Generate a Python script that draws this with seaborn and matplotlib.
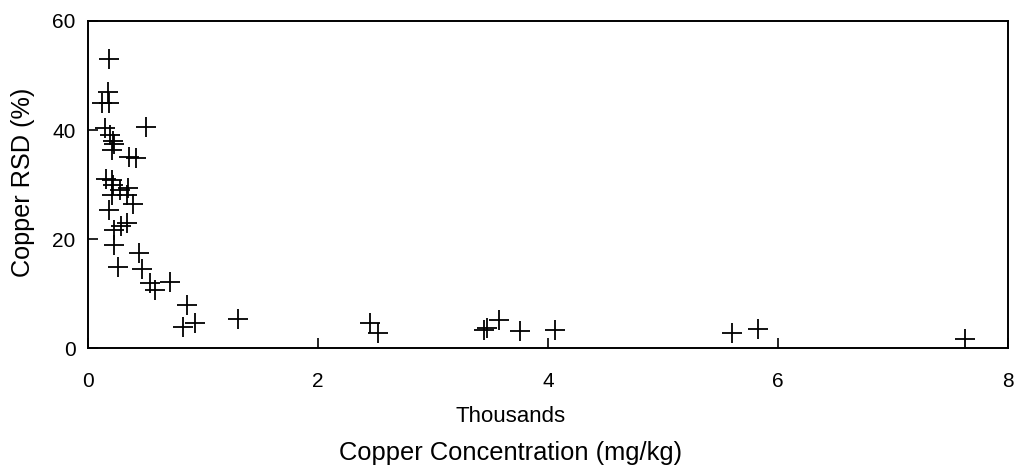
import matplotlib
matplotlib.use("Agg")
import matplotlib.pyplot as plt
import seaborn as sns
import pandas as pd

# Copper concentration (thousands of mg/kg) and relative standard deviation (%)
concentration = [
    0.18, 0.17, 0.12, 0.18, 0.15, 0.50, 0.19, 0.22, 0.23, 0.21,
    0.36, 0.42, 0.16, 0.21, 0.22, 0.28, 0.35, 0.21, 0.34, 0.39,
    0.18, 0.34, 0.29, 0.23, 0.23, 0.44, 0.26, 0.47, 0.54, 0.71,
    0.58, 0.86, 0.83, 0.93, 1.30, 2.45, 2.52, 3.44, 3.47, 3.57,
    3.76, 4.06, 5.60, 5.83, 7.63,
]
rsd = [
    53.0, 46.9, 44.9, 44.9, 40.3, 40.5, 39.1, 37.9, 37.5, 36.3,
    35.1, 34.8, 31.1, 30.8, 29.9, 29.0, 29.3, 28.1, 28.1, 26.4,
    25.3, 22.9, 22.3, 21.7, 18.9, 17.4, 14.9, 14.5, 11.9, 12.2,
    10.6, 7.9, 3.9, 4.5, 5.3, 4.5, 2.7, 3.3, 3.6, 5.1,
    3.2, 3.3, 2.8, 3.4, 1.6,
]
x_ticks = [0, 2, 4, 6, 8]
y_ticks = [0, 20, 40, 60]

df = pd.DataFrame({"conc": concentration, "rsd": rsd})

sns.set_style("white")
plt.rcParams["font.family"] = ["Liberation Sans", "DejaVu Sans"]
plt.rcParams["text.color"] = "black"
plt.rcParams["axes.labelcolor"] = "black"

W, H = 1021, 465
fig = plt.figure(figsize=(W / 100, H / 100), dpi=100)
ax = fig.add_axes([88 / W, 1 - 348 / H, 920 / W, 327 / H])

sns.scatterplot(data=df, x="conc", y="rsd", marker="+", s=190,
                color="black", linewidth=1.3, ax=ax, legend=False)

ax.set_xlim(0, 8)
ax.set_ylim(0, 60)
ax.set_xticks(x_ticks)
ax.set_yticks(y_ticks)
ax.tick_params(bottom=True, left=True, top=False, right=False,
               direction="in", length=7, width=1.2, labelsize=15,
               colors="black")
ax.tick_params(axis="x", pad=17)
ax.tick_params(axis="y", pad=9)
for sp in ax.spines.values():
    sp.set_visible(True)
    sp.set_color("black")
    sp.set_linewidth(1.4)

ax.set_xlabel("")
ax.set_ylabel("")

# Axis titles, centred on the figure
fig.text(23 / W, 1 - 182 / H, "Copper RSD (%)", rotation=90,
         ha="center", va="center", fontsize=18.2)
fig.text(0.5, 1 - 422 / H, "Thousands", ha="center", va="baseline",
         fontsize=16)
fig.text(0.5, 1 - 460 / H, "Copper Concentration (mg/kg)", ha="center",
         va="baseline", fontsize=18.4)

fig.savefig("out.png", dpi=100)
